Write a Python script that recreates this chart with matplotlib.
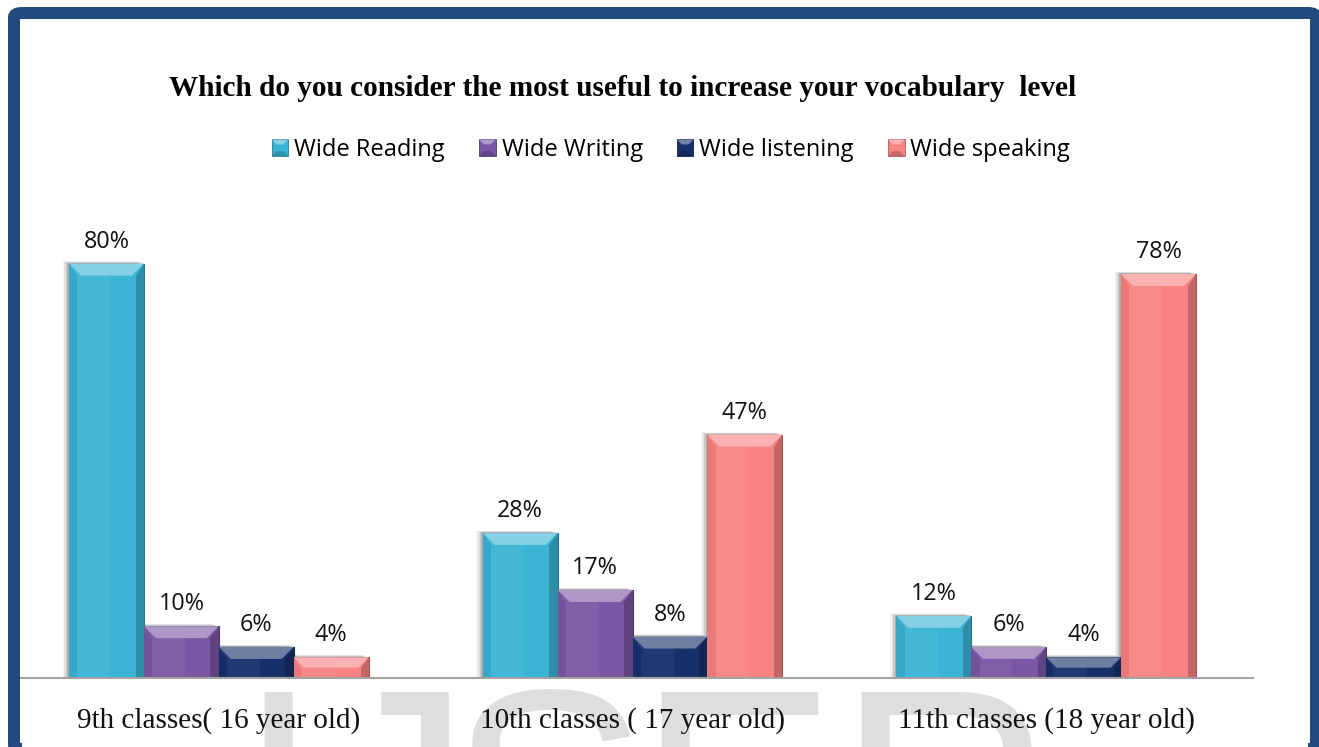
import numpy as np
import matplotlib.pyplot as plt
from matplotlib.patches import Rectangle, Polygon, FancyBboxPatch
from matplotlib.legend_handler import HandlerBase
from matplotlib.colors import to_rgb

# survey answers (percent of students) per class
categories = ['9th classes( 16 year old)', '10th classes ( 17 year old)', '11th classes (18 year old)']
series_names = ['Wide Reading', 'Wide Writing', 'Wide listening', 'Wide speaking']
wide_reading = [80, 28, 12]
wide_writing = [10, 17, 6]
wide_listening = [6, 8, 4]
wide_speaking = [4, 47, 78]

colors = ['#3bb3d4', '#7a57a5', '#17306b', '#f98282']

W, H = 1319, 747
ax_left, ax_right, ax_bottom = 12, 1253, 678
ymax = 88
px_per_y = 5.18
ax_top = ax_bottom - ymax * px_per_y


def shade(c, f):
    c = np.array(to_rgb(c))
    if f > 0:
        return tuple(c + (1 - c) * f)
    return tuple(c * (1 + f))


fig = plt.figure(figsize=(W / 100, H / 100), dpi=100)
ax = fig.add_axes([ax_left / W, 1 - ax_bottom / H, (ax_right - ax_left) / W, (ax_bottom - ax_top) / H])
ax.set_xlim(-0.5, len(categories) - 0.5)
ax.set_ylim(0, ymax)
ax.patch.set_alpha(0)

sx = len(categories) / (ax_right - ax_left)   # data units per pixel (x)
sy = 1 / px_per_y                              # data units per pixel (y)

x = np.arange(len(categories))
w = 0.181
data = [wide_reading, wide_writing, wide_listening, wide_speaking]

for i, (vals, col) in enumerate(zip(data, colors)):
    xc = x + (i - 1.5) * w
    ax.bar(xc, vals, w, color=col, edgecolor=shade(col, -0.35), linewidth=0.8, zorder=3)
    for xi, v in zip(xc, vals):
        x0, x1 = xi - w / 2, xi + w / 2
        # soft shadow on the left side
        for k, a in enumerate([0.05, 0.07, 0.09, 0.12]):
            off = (4 - k) * 1.6 * sx
            ax.add_patch(Rectangle((x0 - off, 0), w, v + (4 - k) * 0.6 * sy,
                                   color='k', alpha=a, lw=0, zorder=1))
        d = min(12, v * px_per_y / 2)
        dx, dy = d * sx, d * sy
        # light sheen over left half
        ax.add_patch(Rectangle((x0, 0), w * 0.55, v, color='white', alpha=0.05, lw=0, zorder=3.5))
        ax.add_patch(Polygon([(x1, v), (x1, 0), (x1 - dx * 0.7, 0), (x1 - dx * 0.7, v - dy)],
                             closed=True, facecolor=shade(col, -0.22), lw=0, zorder=4))
        ax.add_patch(Polygon([(x0, v), (x0, 0), (x0 + dx * 0.7, 0), (x0 + dx * 0.7, v - dy)],
                             closed=True, facecolor=shade(col, -0.06), lw=0, zorder=4))
        ax.add_patch(Polygon([(x0, v), (x1, v), (x1 - dx, v - dy), (x0 + dx, v - dy)],
                             closed=True, facecolor=shade(col, 0.38), lw=0, zorder=4))
        ax.annotate(f'{v}%', (xi, v), xytext=(0, 11.5), textcoords='offset points',
                    ha='center', va='baseline', fontsize=16.8, family='Open Sans', color='#111111')

for s in ['top', 'left', 'right']:
    ax.spines[s].set_visible(False)
ax.spines['bottom'].set_color('#a3a3a3')
ax.spines['bottom'].set_linewidth(1.5)
ax.spines['bottom'].set_zorder(5)
ax.set_yticks([])
ax.set_xticks(x)
ax.set_xticklabels(categories, family='Liberation Serif', fontsize=21, color='#111111')
ax.tick_params(axis='x', length=0, pad=21)

fig.text(623 / W, 1 - 88 / H, 'Which do you consider the most useful to increase your vocabulary  level',
         ha='center', va='center', family='Liberation Serif', weight='bold', fontsize=21.1)


class BevelHandler(HandlerBase):
    def create_artists(self, legend, orig_handle, xdescent, ydescent, width, height, fontsize, trans):
        c = orig_handle.get_facecolor()
        s = min(width, height)
        x0 = -xdescent + (width - s) / 2
        y0 = -ydescent + (height - s) / 2
        t = s * 0.3
        body = Rectangle((x0, y0), s, s, facecolor=c, edgecolor=shade(c, -0.3), lw=0.6, transform=trans)
        top = Polygon([(x0, y0 + s), (x0 + s, y0 + s), (x0 + s - t, y0 + s - t), (x0 + t, y0 + s - t)],
                      facecolor=shade(c, 0.4), lw=0, transform=trans)
        bot = Polygon([(x0, y0), (x0 + s, y0), (x0 + s - t, y0 + t), (x0 + t, y0 + t)],
                      facecolor=shade(c, -0.2), lw=0, transform=trans)
        return [body, top, bot]


handles = [Rectangle((0, 0), 1, 1, facecolor=c) for c in colors]
fig.legend(handles, series_names, loc='center', bbox_to_anchor=(671 / W, 1 - 150 / H), ncol=4,
           frameon=False, prop={'family': 'Open Sans', 'size': 17}, handlelength=0.7,
           handleheight=0.7, handletextpad=0.25, columnspacing=1.45,
           handler_map={Rectangle: BevelHandler()})

# watermark letters along the bottom
for ch, cx in zip('IJSER', [278, 395, 548, 736, 945]):
    fig.text(cx / W, 1 - 681 / H, ch, ha='center', va='top', fontsize=216,
             family='Liberation Sans', color='#dedede', zorder=-1)

# dark blue frame
fig.patches.append(FancyBboxPatch((14 / W, 1 - 749 / H), 1302 / W, 736 / H,
                                  boxstyle='round,pad=0,rounding_size=0.006',
                                  transform=fig.transFigure, facecolor='none',
                                  edgecolor='#234a7c', linewidth=8.64, zorder=10))

fig.savefig('out.png', dpi=100, facecolor='white')
